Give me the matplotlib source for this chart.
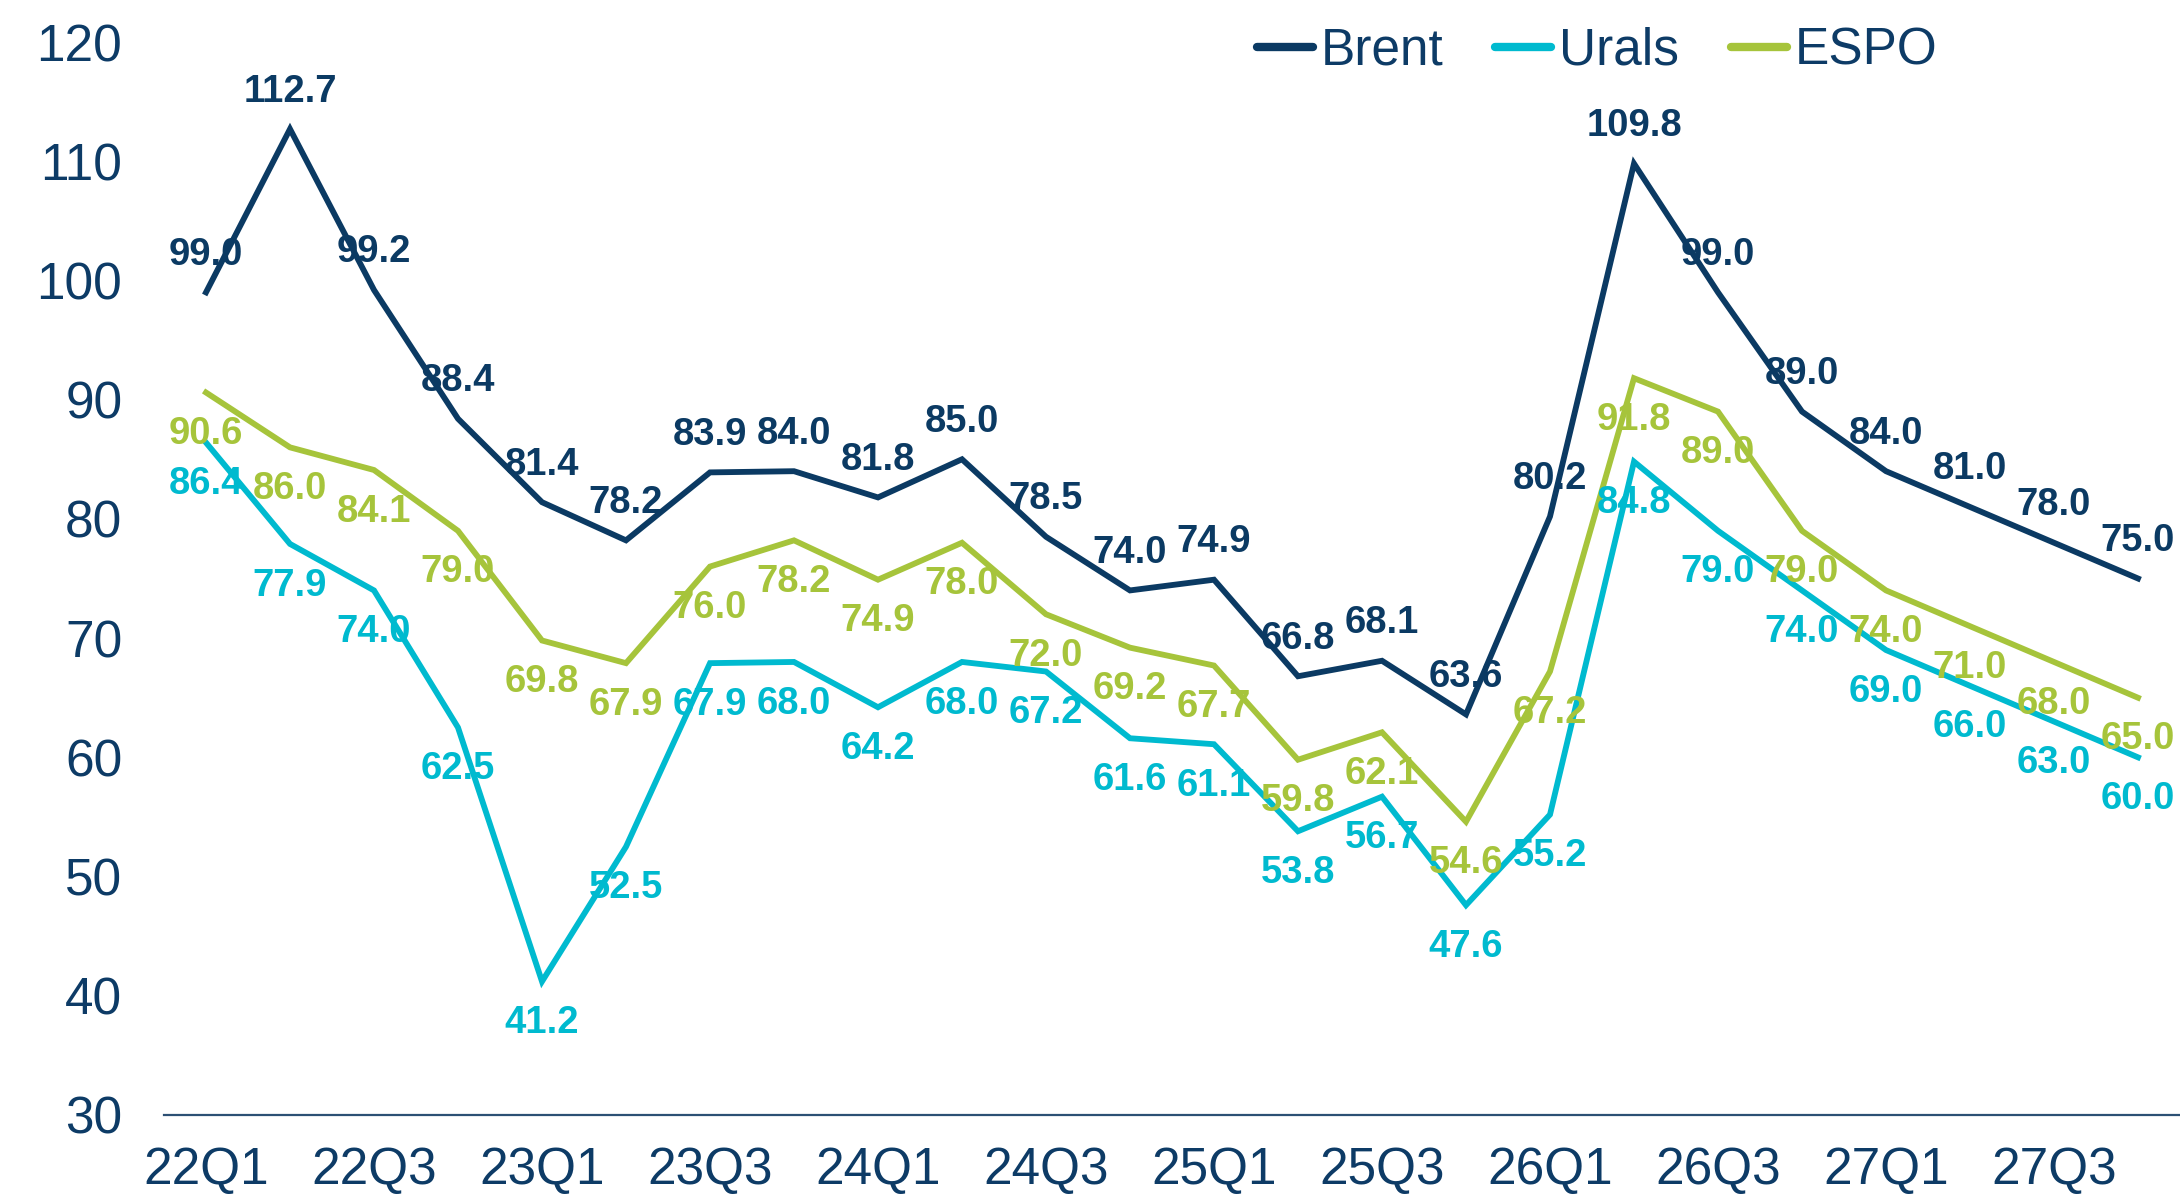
import matplotlib
matplotlib.use("Agg")
import matplotlib.pyplot as plt

# quarterly oil price forecast, USD/bbl
quarters = [f"{y}Q{q}" for y in range(22, 28) for q in range(1, 5)]
brent = [99.0, 112.7, 99.2, 88.4, 81.4, 78.2, 83.9, 84.0, 81.8, 85.0, 78.5, 74.0,
         74.9, 66.8, 68.1, 63.6, 80.2, 109.8, 99.0, 89.0, 84.0, 81.0, 78.0, 75.0]
urals = [86.4, 77.9, 74.0, 62.5, 41.2, 52.5, 67.9, 68.0, 64.2, 68.0, 67.2, 61.6,
         61.1, 53.8, 56.7, 47.6, 55.2, 84.8, 79.0, 74.0, 69.0, 66.0, 63.0, 60.0]
espo = [90.6, 86.0, 84.1, 79.0, 69.8, 67.9, 76.0, 78.2, 74.9, 78.0, 72.0, 69.2,
        67.7, 59.8, 62.1, 54.6, 67.2, 91.8, 89.0, 79.0, 74.0, 71.0, 68.0, 65.0]
yticks = [30, 40, 50, 60, 70, 80, 90, 100, 110, 120]

NAVY = "#0B3A63"
CYAN = "#00BACF"
GREEN = "#A6C43B"
TEXT = "#0D3B66"

plt.rcParams['font.family'] = ['Liberation Sans', 'DejaVu Sans']

fig = plt.figure(figsize=(21.8, 12.04), dpi=100)
ax = fig.add_axes([164 / 2180, 1 - 1115 / 1204, 1 - 164 / 2180, (1115 - 42) / 1204])

x = list(range(len(quarters)))
# Brent labels sit above the line, the other two below
series = [("Brent", brent, NAVY, 27), ("Urals", urals, CYAN, -30), ("ESPO", espo, GREEN, -30)]

for name, vals, col, dy in series:
    ax.plot(x, vals, color=col, lw=4.2, label=name, solid_joinstyle='miter')
    for xi, v in zip(x, vals):
        ax.annotate(f"{v:.1f}", (xi, v), xytext=(0, dy), textcoords='offset points',
                    ha='center', va='center', fontsize=27.5, fontweight='bold', color=col)

ax.set_xlim(-0.5, len(quarters) - 0.5)
ax.set_ylim(30, 120)
ax.set_xticks(x[::2])
ax.set_xticklabels(quarters[::2])
ax.set_yticks(yticks)
ax.tick_params(axis='both', length=0, labelsize=37, colors=TEXT)
ax.tick_params(axis='x', pad=22)
ax.tick_params(axis='y', pad=30)

for s in ['top', 'right', 'left']:
    ax.spines[s].set_visible(False)
ax.spines['bottom'].set_color("#2C5074")
ax.spines['bottom'].set_linewidth(1.6)

leg = fig.legend(loc='center', bbox_to_anchor=(1597 / 2180, 1 - 51 / 1204), ncol=3,
                 frameon=False, fontsize=37, handlelength=1.1, handletextpad=0.15,
                 columnspacing=1.0, borderpad=0)
for t in leg.get_texts():
    t.set_color(TEXT)
for h in leg.get_lines():
    h.set_linewidth(6)
    h.set_solid_capstyle('round')

fig.savefig("out.png", dpi=100)
